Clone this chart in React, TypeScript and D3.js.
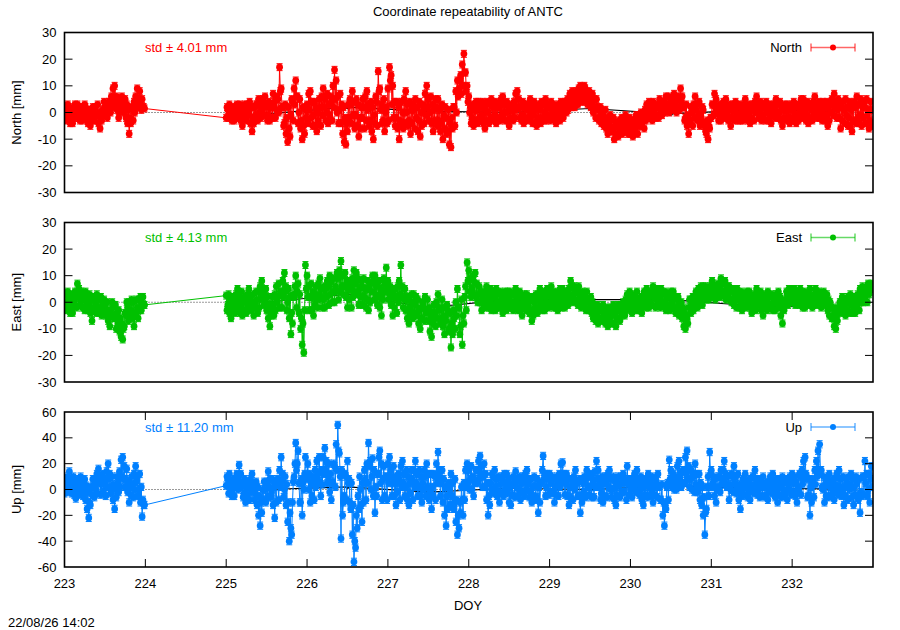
import React from 'react';
import * as d3 from 'd3';

// epochs: two interleaved sample sets, 0.02 d apart each, offset by 0.01 d
const stepDay = 0.02;
const halfStep = 0.01;
const startA = 223;
const startB = 225;

const xTicks = [223, 224, 225, 226, 227, 228, 229, 230, 231, 232];
const dailyDays = [223.5, 225.5, 226.5, 227.5, 228.5, 229.5, 230.5, 231.5, 232.5];

const northA = [
  0, 2, 3, 1, -2, -4, -2, 1, 3, 2, -1, -3, -1, 2, 1, -2, -5, -3, 0, 2, -1, -4, -6, -3, 0,
  2, 3, 1, 4, 6, 9, 10, 6, 3, 0, 2, 5, 2, -2, -4, -8, -4, 1, 4, 6, 9, 5, 3, 5, 2,
];
const northAHalf = [
  -3, -1, -2, -4, 1, 2, 3, -1, -2, -3, 2, 1, 3, -2, -4, 1, -1, 2, -3, -1, 3, 0, -2, 1, 4,
  -1, -2, 4, 0, 2, 3, 5, 1, -2, 4, 6, 0, 5, 3, 1, -2, 2, -3, 0, 2, 4, 8, 1, 2, 1.5,
];
const northB = [
  // 225
  -2, 1, 3, 1, -2, -3, -1, 2, 0, -3, -5, -2, 1, 3, 0, -4, -7, -4, -1, 3, 5, 3, 1, 4, 6,
  3, -1, -3, 2, 7, 4, 1, 5, 17, 9, 2, -4, -8, -11, -6, -1, 4, 9, 12, 6, 0, -6, -10, -5, 1,
  // 226
  3, 7, 8, 4, -1, -5, -7, -3, 2, 6, 9, 5, 0, -4, -1, 4, 10, 16, 12, 6, 1, -4, -8, -11, -12,
  -7, -2, 3, 8, 4, -1, -5, -9, -6, -2, 2, 6, 8, 3, -3, -7, -10, -4, 4, 15.5, 9, 3, -3, -7, 2,
  // 227
  9, 17, 14, 10, 4, -2, -6, -10, -5, 0, 5, 8, 3, -3, -8, -4, 1, 5, 2, -3, -9, -5, 2, 7, 10,
  5, 0, -4, -7, -3, 2, 5, 1, -4, -10, -6, -2, -7, -12, -13, -6, 2, 8, 12, 9, 14, 18, 22, 15, 10,
  // 228
  6, 2, -2, -5, -3, 1, 4, 2, -1, -4, -6, -3, 0, 3, 5, 2, -1, -4, -2, 2, 5, 6, 3, 0, -3,
  -5, -2, 1, 4, 7, 8, 5, 2, -1, -4, -2, 1, 3, 5, 2, -1, -4, -5, -2, 1, 4, 3, 0, -3, -1,
  // 229
  2, 4, 1, -2, -4, -1, 2, 4, 3, 1, 3, 5, 4, 6, 8, 6, 4, 7, 9, 10, 8, 6, 9, 7, 4,
  6, 3, 0, 2, 5, 1, -2, -4, -1, -3, -6, -8, -5, -3, -7, -10, -8, -5, -3, -6, -8, -4, -1, -3, -6,
  // 230
  -8, -5, -3, -6, -4, -1, -3, -5, -2, 1, 3, 0, -2, 1, 4, 2, -1, 2, 5, 3, 1, 4, 6, 3, 0,
  2, 5, 7, 4, 2, 5, 9, 6, 2, -2, -5, -8, -4, 0, 3, 6, 3, -1, -5, -3, 1, -4, -8, -10, -6,
  // 231
  -2, 3, 7, 5, 2, -1, -3, 0, 3, 5, 2, -2, -5, -2, 1, 4, 2, -1, -3, 0, 3, 5, 2, -1, -4,
  -2, 1, 4, 6, 3, 0, -3, -1, 2, 4, 1, -2, -4, -1, 2, 5, 3, 0, -3, -5, -2, 1, 3, 1, -2,
  // 232
  1, 4, 2, -1, -3, 0, 3, 5, 2, -1, -4, -2, 1, 4, 6, 3, 0, -2, 1, 4, 2, -1, -5, -3, 0,
  4, 7, 4, 1, -2, -6, -3, 1, 5, 2, -2, -5, -7, -3, 2, 6, 3, -1, -5, -2, 2, 5, 1, -3, 1,
];
const northBHalf = [
  // 225
  2, -2, 0, -3, 2, 1, 3, -2, 3, 1, 0, 3, -3, -1, 4, 2, -2, 2, 3, -3, 0, -2, 5, -1, 2,
  -3, 4, 2, -2, 3, -2, 6, 0, 8, 2, -5, 3, -2, 2, -9, 5, -3, 3, 6, -4, 5, -3, 2, -8, -2,
  // 226
  -4, 1, -2, -5, 4, 2, 0, 5, -5, -1, 2, -3, 7, 3, 6, -3, 2, 5, 0, -4, 7, 3, 2, -2, -4,
  3, 5, -4, -1, -6, 5, 3, -2, 2, 5, -6, -3, 1, -5, 4, 2, -1, 6, -5, 8, 1, -4, 5, 0, -4,
  // 227
  -3, 12, 3, -2, -5, 4, 2, -3, 4, -6, -4, 0, -5, 4, 1, 3, -6, -2, -7, 4, 0, 3, -4, -1, 2,
  -3, 6, 3, 1, 5, -5, -3, -7, 3, -1, 2, -8, 1, -4, -2, 2, -5, 0, 6, 12, 7, 10, 15, 8, 4,
  // 228
  0, -4, 3, 1, 4, -4, -2, -3, 4, 2, 1, 4, -4, -2, -2, -3, 4, 2, 3, -3, -1, 0, -3, 4, 2,
  1, 3, -3, -2, 1, 2, -2, -3, 4, 2, 3, -3, -2, 0, -4, 4, 1, 2, 3, -4, -2, -3, 5, 2, 3,
  // 229
  -3, -1, 3, 2, 1, 3, -3, -1, -2, 4, 0, 1, 7, 2, 4, 2, 8, 3, 5, 6, 4, 10, 5, 3, 8,
  2, 7, 5, -2, 2, -3, 2, 0, -5, 1, -2, -4, -1, -7, -2, -5, -4, -9, -7, -2, -4, -7, -5, -8, -2,
  // 230
  -3, -9, -7, -1, -8, -5, 0, -1, -6, -3, -2, 4, 2, -3, 0, -2, 3, -2, 1, -1, 4, 0, 2, 6, 3,
  5, 1, 3, 0, 6, 1, 4, 2, -3, 3, -1, -3, 2, -5, -2, 1, -3, 4, -1, 2, -5, -7, -3, -5, -2,
  // 231
  3, -1, 2, 0, -3, 3, 2, 4, -2, 0, -3, 3, 1, 3, -3, -1, -3, 3, 2, -3, -2, 0, -3, 3, 1,
  3, -3, 0, 2, -2, 4, 2, 3, -3, 0, -3, 3, 1, 3, -2, 0, -2, 4, 2, 1, 3, -3, -2, -4, 3,
  // 232
  -3, -1, -4, 3, 2, 5, -2, 0, -3, 4, 2, 3, -3, -1, 1, -2, 4, 3, -3, -1, -3, 4, 2, 3, 5,
  -1, 2, -2, 5, 3, 2, 4, -4, -1, -5, 4, 1, 3, 4, -4, -2, -4, 5, 2, 4, -4, -1, -6, 4, -5,
];
const northDaily = [0.5, -0.5, 2, 0.5, 0, 1.5, -0.5, 1, 0.5];

const eastA = [
  0, 3, 4, 1, -2, -4, -1, 3, 7, 5, 1, -2, 1, 4, 2, -1, -4, -7, -3, 0, 3, 1, -2, -5, -3,
  -1, -4, -7, -9, -5, -2, -6, -10, -8, -11, -13, -14, -9, -5, -2, 0, -3, -6, -9, -5, -2, 1, 2, -1, -1,
];
const eastAHalf = [
  -3, -2, 0, -4, 3, 1, 4, -2, 2, -1, 4, 3, -3, -1, -3, 3, 1, -2, 2, -4, -2, -4, 2, 0, 1,
  -5, 0, -3, -4, 0, -6, -1, -4, -3, -6, -8, -10, -4, 0, -7, -5, 1, 0, -4, 1, -6, -3, -3, 2, -1,
];
const eastB = [
  // 225
  2.5, -1, -4, -6, -3, 0, 3, 5, 2, -1, -5, -3, 0, 3, 5, 2, -2, -5, -2, 1, 4, 6, 8, 5, 1,
  -3, -6, -9, -5, -1, 3, 6, 2, -2, 4, 8, 11, 6, 0, -6, -12, -8, 2, 10, 4, -4, -10, -16, -19, 14,
  // 226
  10, 6, 2, -3, -5, -1, 3, 7, 9, 5, 1, -2, 2, 6, 10, 8, 4, 0, 4, 9, 12, 15.5, 10, 6, 2,
  -2, 1, 5, 9, 12, 7, 3, -1, 2, 6, 9, 5, 1, -3, 0, 4, 8, 10, 6, 2, -2, -5, 1, 7, 13,
  // 227
  8, 3, -1, -5, -2, 2, 6, 8, 14, 6, 1, -3, -6, -8, -4, 0, 3, -1, -5, -8, -10, -6, -2, 2, -3,
  -7, -11, -13, -8, -4, 0, 3, -2, -6, -9, -12, -7, -3, -11, -17, -12, -6, 0, 5, -2, -9, -16, -8, 6, 15,
  // 228
  12, 9, 5, 8, 11, 7, 3, 0, -3, 1, 4, 6, 3, 0, -3, -1, 2, 5, 3, 0, -2, -4, -1, 2, 4,
  1, -2, 0, 3, 5, 2, -1, -3, -5, -2, 1, 3, 0, -4, -7, -5, -2, 1, 3, 5, 2, -1, -3, 0, 3,
  // 229
  5, 6, 3, 0, -2, -3, 0, 3, 5, 2, 0, 3, 5, 8, 6, 3, 1, 4, 6, 3, 0, -1, 2, 4, 1,
  -2, -4, -6, -3, -5, -8, -6, -3, -1, -4, -7, -9, -6, -3, -5, -8, -9, -6, -3, -1, -4, -2, 1, 3, 0,
  // 230
  -2, -4, -1, 2, 4, 1, -2, -4, -1, 3, 5, 2, 0, 3, 6, 4, 1, -1, 2, 5, 3, 0, -3, -1, 2,
  4, 1, -2, -4, -2, -5, -3, -6, -9, -10, -6, -2, 1, -1, -3, 0, 3, 5, 2, 4, 6, 3, 1, 4, 6,
  // 231
  4, 7, 5, 2, 4, 6, 9, 7, 4, 1, 3, 6, 4, 1, -1, 2, 5, 3, 0, -3, -1, 2, 4, 1, -2,
  -4, -1, 2, 5, 3, 0, -3, -5, -2, 1, 4, 2, -1, -3, 0, 3, 1, -2, -5, -8, -3, 0, 3, 5, 2,
  // 232
  4, 2, -1, 1, 3, 5, 2, 0, -2, 1, 3, 5, 2, -1, 1, 4, 2, 0, -2, 1, 3, 0, -3, -5, -2,
  -6, -9, -10, -7, -3, 0, 2, -2, -5, -3, 0, 3, 1, -2, -4, -1, 2, 5, 3, 0, 2, 5, 7, 4, 7,
];
const eastBHalf = [
  // 225
  -3, 3, 1, -1, 2, -4, -2, 0, -4, 4, 1, 2, -4, -2, 0, -3, 3, 0, 4, -4, -2, 1, 3, -1, 5,
  2, -1, -3, 2, -5, -3, 0, 7, 4, -2, 2, 4, -3, 5, 2, -4, 3, 6, -2, 7, 3, -6, -8, -3, 5,
  // 226
  2, -3, 7, 4, 2, 6, -2, 1, 2, -2, 6, 5, 8, -1, 3, 0, 9, 6, 11, 1, 4, 6, 3, 11, 8,
  5, 7, -2, 2, 4, 11, 9, 5, 8, -1, 2, -2, 8, 5, 7, 10, 1, 3, -1, 8, 5, 3, 9, 4, 5,
  // 227
  1, 6, 4, 2, 5, -4, 0, 3, 2, -2, 5, 2, 1, -2, 3, -6, -4, 2, 1, -3, -2, 0, -7, -4, 1,
  -2, -4, -6, -1, -9, -6, -3, -8, 1, -2, -5, -1, -10, -4, -8, -3, -10, -5, -2, -12, 1, -5, 2, -3, 8,
  // 228
  4, 2, 10, 3, 2, 0, 6, 4, 3, -1, -2, 1, -2, 5, 2, 4, -3, 0, -2, 4, 3, 1, 4, -3, -1,
  4, 3, -3, -2, 0, -3, 4, 2, 0, 3, -3, -2, -4, 2, -3, 0, 3, -4, -2, 0, -3, 4, 2, 5, -2,
  // 229
  -1, 1, -2, 4, 3, 2, 5, -2, 0, -2, 4, -1, 1, 2, 0, 6, 4, -1, 1, -2, 4, 3, -3, 0, -3,
  2, 0, -2, -7, -1, -3, -2, -7, -5, -8, -2, -4, -2, -8, -1, -4, -3, -1, -7, -5, 0, -5, -3, -2, 4,
  // 230
  2, 1, 3, -3, -1, -3, 2, 1, 4, -2, 0, -2, 4, -1, 2, -2, 5, 3, -2, 0, -1, 4, 2, 3, -3,
  -1, 4, 2, 1, 2, -1, 0, -2, -4, -5, -8, 1, -4, 2, 1, 4, -2, 0, 6, -1, 2, 6, 5, 1, 2,
  // 231
  8, 2, 1, 6, 7, 2, 4, 3, 8, 5, 6, 1, 0, 5, 3, -2, 1, -2, 4, 2, 3, -2, 0, 4, 2,
  1, 3, -3, 0, -1, 4, 2, 0, 3, -3, -1, -2, 3, 2, -3, 0, 4, 2, 0, -2, 1, 4, -1, 0, 5,
  // 232
  0, 5, 3, 4, -1, 1, -2, 4, 3, -1, 0, 1, -2, 3, 5, -1, 4, 3, 2, 4, -1, 3, 1, 0, -6,
  -2, -4, -5, -2, 0, -4, -2, 1, 0, 2, -4, -1, -4, 2, 0, 3, -3, 0, 6, 3, 5, 0, 3, 6, 5,
];
const eastDaily = [-2, 0, 3, -2, 1, 1, 1, -1.3, -2];

const upA = [
  -3, 4, 10, 14, 8, 2, -4, -7, -2, 5, 10, 6, 0, -8, -15, -22, -12, -4, 3, 8, 12, 16, 10, 4, -2,
  6, 14, 20, 12, 2, -8, -15, -6, 5, 14, 23, 25, 18, 8, -2, -10, -4, 4, 12, 18, 10, 0, -10, -21, -12,
];
const upAHalf = [
  8, -2, 2, 4, -3, 10, 6, 2, 8, -4, 0, -5, 8, 3, -2, -10, 2, 8, -6, 0, -3, 5, -4, 12, 8,
  -5, 2, 8, -3, 10, 4, 0, 10, -2, 2, 10, 8, 2, 16, 6, 2, 10, -6, 0, 6, -5, 12, 2, -8, -12,
];
const upB = [
  // 225
  3, 8, 12, 6, 0, -5, 2, 10, 19, 12, 4, -3, -10, -5, 2, 8, 12, 5, -3, -12, -20, -28, -18, -8, 0,
  6, 14, 8, -2, -12, -22, -10, 5, 15, 25, 12, 0, -12, -25, -40, -30, -10, 10, 36, 20, 5, -10, -20, 0, 25,
  // 226
  8, 0, -10, -5, 5, 15, 22, 12, 5, 15, 25, 32, 22, 10, -2, -8, 5, 18, 35, 50, 28, -38, -20, -5, 10,
  22, 8, -15, -35, -56, -45, -30, -15, 0, -25, -10, 8, 20, 36, 22, 10, -5, -18, -5, 12, 30, 20, 8, -5, 10,
  // 227
  20, 25, 15, 5, -5, -12, -2, 8, 18, 22, 12, 2, -8, -12, -3, 8, 15, 22, 12, 2, -5, -10, 0, 10, 20,
  12, -2, -15, -5, 10, 20, 29, 15, 5, -10, -20, -28, -15, 0, 12, 5, -10, -25, -35, -30, -18, -8, 5, 15, 20,
  // 228
  15, 8, 0, -5, 5, 15, 22, 26, 18, 10, 2, -8, -20, -12, 0, 10, 15, 8, -2, -10, -3, 6, 12, 5, -3,
  -10, -12, -4, 5, 14, 8, 0, -8, -2, 6, 12, 15, 8, -2, -10, -5, 3, -6, -18, -10, 5, 26, 12, 2, 8,
  // 229
  12, 5, -3, -10, -4, 5, 12, 20, 21, 12, 4, -5, -12, -6, 3, 10, 15, 6, -5, -18, -10, -2, 8, 15, 10,
  2, -6, 4, 14, 22, 15, 6, -3, -10, -5, 5, 12, 15, 8, 0, -8, -12, -5, 4, 10, 5, -2, 6, 18, 8,
  // 230
  0, -6, 2, 10, 15, 8, 0, -8, -12, -4, 5, 12, 6, -2, -10, -4, 5, 12, 3, -8, -20, -28, -15, 5, 23,
  15, 5, 0, 8, 18, 22, 12, 5, 15, 25, 30, 18, 8, 0, 10, 20, 12, 2, -8, -12, -20, -35, -15, 10, 29,
  // 231
  15, 5, -5, -10, 0, 10, 15, 8, 22, 12, 2, -8, 0, 10, 18, 10, 2, -8, -15, -5, 5, 12, 6, -2, -8,
  0, 10, 15, 8, 0, -6, 2, 10, 4, -4, -8, 0, 8, 12, 5, -3, -10, -4, 4, 10, 6, -2, -8, 0, 8,
  // 232
  12, 5, -5, -10, 0, 10, 15, 22, 25, 10, -5, -20, -10, 5, 15, 22, 30, 35, 15, 0, -10, -5, 5, 12, 6,
  -2, -8, 0, 10, 15, 8, -2, -12, -5, 5, 10, 3, -6, -12, -4, 5, -8, -18, -5, 10, 22, 12, 0, -10, 18,
];
const upBHalf = [
  // 225
  10, -3, 2, -5, 8, 6, 12, 0, 6, 2, -6, 8, 2, 6, -8, -2, 0, -8, 6, 2, -5, -10, 0, 6, -10,
  -6, 2, -6, 8, 2, 4, 8, -8, 2, 6, -6, 10, 4, -10, -18, -35, 6, 20, 15, 30, -10, 8, 5, 12, 10,
  // 226
  20, 12, 5, 10, -8, 2, 8, 25, -5, 4, 12, 15, 5, 20, 12, 6, 20, 2, 15, 30, 10, 15, -10, 12, -8,
  5, -10, 5, -12, -40, -20, -5, 10, -12, 5, 15, -8, 5, 18, 0, 24, 15, 2, 12, 25, 5, -8, 18, 10, -8,
  // 227
  5, 10, -5, 18, 10, 5, 12, -8, 2, 5, -5, 15, 10, 5, 15, -8, 2, 5, -5, 15, 10, 5, 15, -5, 2,
  -8, 12, 2, 12, -8, 5, 10, -5, 15, 8, 2, -5, 5, -12, -5, -15, 8, -8, -20, -10, 2, -20, -8, 2, 5,
  // 228
  0, 18, 10, 8, 15, 5, 8, 12, 2, 20, 12, 5, -5, 5, 12, -3, 2, -5, 10, 4, 10, -5, 0, 12, 8,
  2, 4, 10, -6, 2, -5, 10, 5, 10, -5, 0, 4, -6, 8, 2, 10, -8, 8, 2, 5, 15, 8, -5, 12, -4,
  // 229
  -2, 10, 8, 2, 10, -5, 2, 6, 8, -4, 12, 8, 2, 8, -8, 0, 4, -5, 8, -5, 5, 10, -6, 2, -4,
  12, 8, -6, 2, 8, 2, -8, 10, 5, 10, -6, 2, 0, -6, 10, 6, 2, 10, -6, -2, 12, 8, -8, 4, -4,
  // 230
  8, 5, 12, -2, 4, -4, 10, 5, 2, 8, -6, 2, -5, 10, 2, 8, -6, 2, -8, 4, -10, -12, 2, -8, 8,
  2, 12, 10, 0, 4, 8, 2, 15, 5, 12, 8, 2, 15, 12, -2, 4, -2, 12, 5, 2, -6, -18, 2, -5, 12,
  // 231
  2, 10, 8, 2, 10, -2, 4, 15, 5, 2, 10, 4, 12, -2, 5, -3, 12, 4, 0, 8, -4, 2, -6, 8, 4,
  10, -3, 4, -4, 8, 5, -5, 2, -6, 6, 4, 10, -3, 2, -6, 8, 2, 8, -6, 0, -4, 8, 4, 10, -4,
  // 232
  -2, 10, 6, 2, 12, -4, 4, 8, 12, -6, 8, 2, 8, -6, 4, 10, 12, 15, 2, 10, 4, 8, -6, 2, -5,
  8, 4, 12, -4, 2, -5, 10, 2, 8, -8, 0, 12, 8, 2, 10, -6, 8, -2, 10, -4, 5, -5, 12, 8, 2,
];
const upDaily = [0, 0, 2, -2, 1, 0, 3, 1, 0.5];

const samplesOf = (start: number, values: number[]) =>
  values.map((v, i) => [start + i * stepDay, v] as [number, number]);

const W = 900;
const H = 630;
const left = 64.5;
const right = 873;
const font = 'Liberation Sans, Arial, sans-serif';

const x = d3.scaleLinear().domain([223, 233]).range([left, right]);

interface PanelProps {
  top: number;
  bottom: number;
  domain: [number, number];
  ticks: number[];
  label: string;
  name: string;
  color: string;
  seriesA: number[];
  seriesAHalf: number[];
  seriesB: number[];
  seriesBHalf: number[];
  daily: number[];
  sigma: number;
  std: string;
  showX: boolean;
}

const Panel = (p: PanelProps) => {
  const y = d3.scaleLinear().domain(p.domain).range([p.bottom, p.top]);
  const pts = [
    ...samplesOf(startA, p.seriesA),
    ...samplesOf(startA + halfStep, p.seriesAHalf),
    ...samplesOf(startB, p.seriesB),
    ...samplesOf(startB + halfStep, p.seriesBHalf),
  ].sort((a, b) => a[0] - b[0]);
  const line = d3.line<[number, number]>().x((d) => x(d[0])).y((d) => y(d[1]));
  const dailyPts = dailyDays.map((d, i) => [d, p.daily[i]] as [number, number]);
  // the daily line is not drawn across the data gap of day 224
  const dailyLine = dailyPts.filter((d) => d[0] > startB);
  const midY = (p.top + p.bottom) / 2;
  const legendY = p.top + 15;
  return (
    <g>
      <defs>
        <clipPath id={`clip-${p.name}`}>
          <rect x={left} y={p.top} width={right - left} height={p.bottom - p.top} />
        </clipPath>
      </defs>
      <line x1={left} x2={right} y1={y(0)} y2={y(0)} stroke="#000" strokeWidth={0.8} strokeDasharray="1,2" />
      <g clipPath={`url(#clip-${p.name})`}>
        <path d={line(dailyLine) ?? ''} fill="none" stroke="#000" strokeWidth={1.1} />
        {dailyPts.map((d, i) => (
          <circle key={i} cx={x(d[0])} cy={y(d[1])} r={2} fill="#000" />
        ))}
        <path d={line(pts) ?? ''} fill="none" stroke={p.color} strokeWidth={1} />
        {pts.map((d, i) => {
          const cx = x(d[0]);
          const y1 = y(d[1] - p.sigma);
          const y2 = y(d[1] + p.sigma);
          return (
            <g key={i} stroke={p.color} strokeWidth={1}>
              <line x1={cx} x2={cx} y1={y1} y2={y2} />
              <line x1={cx - 3} x2={cx + 3} y1={y1} y2={y1} />
              <line x1={cx - 3} x2={cx + 3} y1={y2} y2={y2} />
              <circle cx={cx} cy={y(d[1])} r={3.4} fill={p.color} stroke="none" />
            </g>
          );
        })}
      </g>
      {/* y ticks, mirrored */}
      {p.ticks.map((t) => (
        <g key={t}>
          {t !== p.domain[0] && t !== p.domain[1] && (
            <>
              <line x1={left} x2={left + 8} y1={y(t)} y2={y(t)} stroke="#000" />
              <line x1={right - 8} x2={right} y1={y(t)} y2={y(t)} stroke="#000" />
            </>
          )}
          <text x={left - 8} y={y(t)} dy="0.35em" textAnchor="end" fontSize={13} fontFamily={font}>
            {t}
          </text>
        </g>
      ))}
      {p.showX &&
        xTicks.map((t) => (
          <g key={t}>
            <line x1={x(t)} x2={x(t)} y1={p.bottom} y2={p.bottom - 8} stroke="#000" />
            <line x1={x(t)} x2={x(t)} y1={p.top} y2={p.top + 8} stroke="#000" />
            <text x={x(t)} y={p.bottom + 16} dy="0.35em" textAnchor="middle" fontSize={13} fontFamily={font}>
              {t}
            </text>
          </g>
        ))}
      <rect x={left} y={p.top} width={right - left} height={p.bottom - p.top} fill="none" stroke="#000" strokeWidth={1.6} />
      <text
        transform={`translate(16,${midY}) rotate(-90)`}
        textAnchor="middle"
        dy="0.35em"
        fontSize={13}
        fontFamily={font}
      >
        {p.label}
      </text>
      <text x={145} y={legendY} dy="0.35em" fontSize={13} fontFamily={font} fill={p.color}>
        {p.std}
      </text>
      <text x={802} y={legendY} dy="0.35em" textAnchor="end" fontSize={13} fontFamily={font}>
        {p.name}
      </text>
      <g stroke={p.color} strokeOpacity={0.6} strokeWidth={1.5}>
        <line x1={811} x2={855} y1={legendY} y2={legendY} />
        <line x1={811} x2={811} y1={legendY - 4} y2={legendY + 4} />
        <line x1={855} x2={855} y1={legendY - 4} y2={legendY + 4} />
      </g>
      <circle cx={833} cy={legendY} r={3} fill={p.color} />
    </g>
  );
};

export default function App() {
  return (
    <svg width={W} height={H} viewBox={`0 0 ${W} ${H}`} style={{ display: 'block', position: 'absolute', left: 0, top: 0, background: '#fff' }}>
      <rect width={W} height={H} fill="#fff" />
      <text x={468} y={11} dy="0.35em" textAnchor="middle" fontSize={13} fontFamily={font}>
        Coordinate repeatability of ANTC
      </text>
      <Panel
        top={32.5}
        bottom={192.5}
        domain={[-30, 30]}
        ticks={[-30, -20, -10, 0, 10, 20, 30]}
        label="North [mm]"
        name="North"
        color="#ff0000"
        seriesA={northA}
        seriesAHalf={northAHalf}
        seriesB={northB}
        seriesBHalf={northBHalf}
        daily={northDaily}
        sigma={1.3}
        std="std ± 4.01 mm"
        showX={false}
      />
      <Panel
        top={222.5}
        bottom={382}
        domain={[-30, 30]}
        ticks={[-30, -20, -10, 0, 10, 20, 30]}
        label="East [mm]"
        name="East"
        color="#00c000"
        seriesA={eastA}
        seriesAHalf={eastAHalf}
        seriesB={eastB}
        seriesBHalf={eastBHalf}
        daily={eastDaily}
        sigma={1.3}
        std="std ± 4.13 mm"
        showX={false}
      />
      <Panel
        top={412}
        bottom={567}
        domain={[-60, 60]}
        ticks={[-60, -40, -20, 0, 20, 40, 60]}
        label="Up [mm]"
        name="Up"
        color="#0080ff"
        seriesA={upA}
        seriesAHalf={upAHalf}
        seriesB={upB}
        seriesBHalf={upBHalf}
        daily={upDaily}
        sigma={2.8}
        std="std ± 11.20 mm"
        showX={true}
      />
      <text x={468} y={605} dy="0.35em" textAnchor="middle" fontSize={13} fontFamily={font}>
        DOY
      </text>
      <text x={8} y={622} dy="0.35em" fontSize={13} fontFamily={font}>
        22/08/26 14:02
      </text>
    </svg>
  );
}
